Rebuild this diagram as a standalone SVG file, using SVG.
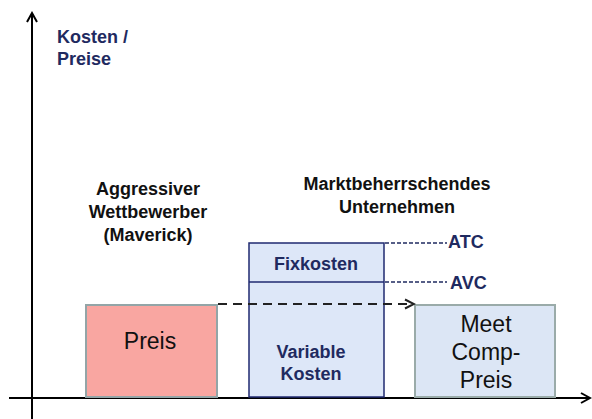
<svg xmlns="http://www.w3.org/2000/svg" width="592" height="419" viewBox="0 0 592 419">
  <defs>
    <marker id="axisHead" markerWidth="12" markerHeight="12" refX="10" refY="6" orient="auto" markerUnits="userSpaceOnUse">
      <path d="M1,1 L10,6 L1,11" fill="none" stroke="#000" stroke-width="2"/>
    </marker>
    <marker id="openHead" markerWidth="12" markerHeight="12" refX="10" refY="6" orient="auto" markerUnits="userSpaceOnUse">
      <path d="M1,1.5 L10,6 L1,10.5" fill="none" stroke="#222" stroke-width="2"/>
    </marker>
    <style>
      .bold { font-family: "Liberation Sans", Arial, sans-serif; font-weight: bold; font-size: 18px; }
      .navy { fill: #1f2a60; }
      .dark { fill: #111; }
      .big { font-family: "Liberation Sans", Arial, sans-serif; font-size: 23px; fill: #111; }
      .level { stroke: #1f2a60; stroke-width: 1.3; stroke-dasharray: 4 2; fill: none; }
    </style>
  </defs>

  <rect width="592" height="419" fill="#fff"/>

  <!-- axes -->
  <g id="axes">
    <line x1="32" y1="419" x2="32" y2="13" stroke="#000" stroke-width="2" marker-end="url(#axisHead)"/>
    <line x1="9" y1="398" x2="590" y2="398" stroke="#000" stroke-width="2" marker-end="url(#axisHead)"/>
    <text class="bold navy" x="57" y="43">Kosten /</text>
    <text class="bold navy" x="57" y="65">Preise</text>
  </g>

  <!-- headings -->
  <g id="labels" class="bold dark" text-anchor="middle">
    <text x="148" y="195">Aggressiver</text>
    <text x="148" y="218">Wettbewerber</text>
    <text x="148" y="241">(Maverick)</text>
    <text x="397" y="190">Marktbeherrschendes</text>
    <text x="397" y="213">Unternehmen</text>
  </g>

  <!-- competitor price -->
  <g id="preis">
    <rect x="86" y="305" width="131" height="92" fill="#f9a6a1" stroke="#93a5a7" stroke-width="2"/>
    <text class="big" x="150" y="349" text-anchor="middle">Preis</text>
  </g>

  <!-- dominant firm cost block -->
  <g id="kosten">
    <rect x="249" y="243" width="135" height="154" fill="#dde7f8" stroke="#1f2a70" stroke-width="1.5"/>
    <line x1="249" y1="282" x2="384" y2="282" stroke="#1f2a70" stroke-width="1.5"/>
    <text class="bold navy" x="316" y="270" text-anchor="middle">Fixkosten</text>
    <text class="bold navy" x="311" y="358" text-anchor="middle">Variable</text>
    <text class="bold navy" x="311" y="380" text-anchor="middle">Kosten</text>
  </g>

  <!-- meet-competition price -->
  <g id="meetcomp">
    <rect x="415" y="305" width="140" height="92" fill="#dce6f5" stroke="#9aaba9" stroke-width="2"/>
    <text class="big" x="486" y="332" text-anchor="middle">Meet</text>
    <text class="big" x="486" y="360" text-anchor="middle">Comp-</text>
    <text class="big" x="486" y="388" text-anchor="middle">Preis</text>
  </g>

  <!-- ATC / AVC levels -->
  <g id="levels">
    <line class="level" x1="385" y1="243" x2="447" y2="243"/>
    <line class="level" x1="385" y1="282" x2="447" y2="282"/>
    <text class="bold navy" x="448" y="248">ATC</text>
    <text class="bold navy" x="450" y="289">AVC</text>
  </g>

  <!-- connectors -->
  <g id="connectors">
    <line x1="218" y1="304" x2="414" y2="304" stroke="#222" stroke-width="2" stroke-dasharray="9 6" marker-end="url(#openHead)"/>
  </g>
</svg>
